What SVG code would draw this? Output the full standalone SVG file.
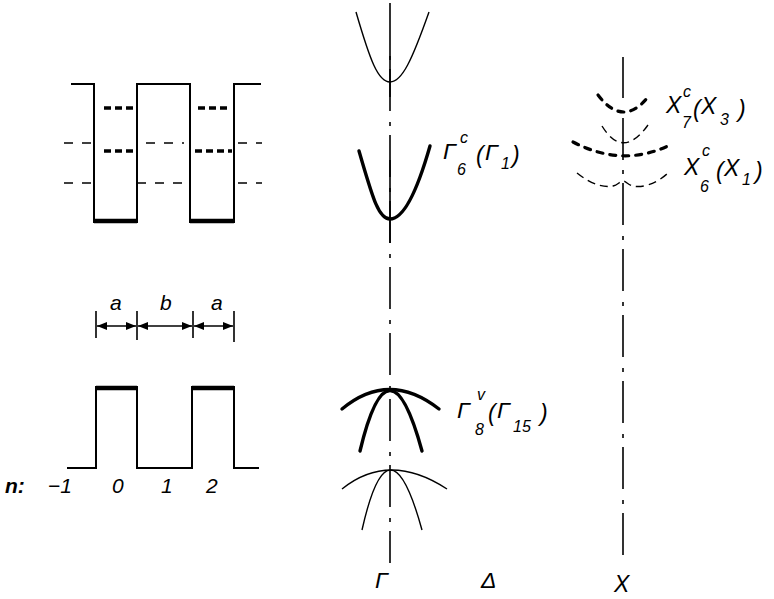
<svg xmlns="http://www.w3.org/2000/svg" width="774" height="599" viewBox="0 0 774 599">
<style>
.w{fill:none;stroke:#000;stroke-width:2;stroke-linejoin:miter;stroke-linecap:square}
.thk{fill:none;stroke:#000;stroke-width:4.5}
.hd{fill:none;stroke:#000;stroke-width:3.4;stroke-dasharray:7 4}
.td{fill:none;stroke:#000;stroke-width:1.6;stroke-dasharray:9 9}
.ax{fill:none;stroke:#000;stroke-width:1.6;stroke-dasharray:42 11 4 9}
.sol{fill:none;stroke:#000;stroke-width:1.6}
.thin{fill:none;stroke:#000;stroke-width:1.4}
.heavy{fill:none;stroke:#000;stroke-width:3.4;stroke-linecap:round}
.xd{fill:none;stroke:#000;stroke-width:3.2;stroke-dasharray:6 7;stroke-linecap:round}
.xt{fill:none;stroke:#000;stroke-width:1.4;stroke-dasharray:8 5}
.dim{fill:none;stroke:#000;stroke-width:1.6}
text{font-family:"Liberation Sans","DejaVu Sans",sans-serif;font-style:italic;fill:#000}
.L{font-size:21px}
.M{font-size:23px}
.s{font-size:16px}
</style>
<defs>
<marker id="ah" viewBox="0 0 10 8" refX="10" refY="4" markerWidth="10" markerHeight="8" markerUnits="userSpaceOnUse" orient="auto-start-reverse">
<path d="M0,0 L10,4 L0,8 Z" fill="#000"/>
</marker>
</defs>

<g id="well-potential">
<path class="w" d="M72,84 H94 V222 M137,222 V84 H190 V222 M234,222 V84 H260"/>
<path class="thk" d="M94,221 H137 M190,221 H234"/>
<path class="hd" d="M104,108 H133 M198,108 H231"/>
<path class="hd" d="M104,151 H134 M195,151 H232"/>
<path class="td" d="M64,143 H94 M146,143 H184 M238,143 H262"/>
<path class="td" d="M64,183 H94 M137,183 H190 M238,183 H262"/>
</g>

<g id="dimensions">
<path class="dim" d="M96,311 V338 M137,311 V340 M193,311 V338 M234,311 V342"/>
<path class="dim" d="M97,326 H136" marker-start="url(#ah)" marker-end="url(#ah)"/>
<path class="dim" d="M138,326 H192" marker-start="url(#ah)" marker-end="url(#ah)"/>
<path class="dim" d="M194,326 H233" marker-start="url(#ah)" marker-end="url(#ah)"/>
<text class="L" x="110" y="310">a</text>
<text class="L" x="160" y="310">b</text>
<text class="L" x="211" y="310">a</text>
</g>

<g id="barrier-profile">
<path class="w" d="M68,468 H96 V387 M137,387 V468 H192 V387 M234,387 V468 H258"/>
<path class="thk" d="M96,388 H137 M192,388 H234"/>
<text class="L" x="5" y="493" font-weight="bold">n:</text>
<text class="L" x="48" y="493">−1</text>
<text class="L" x="112" y="493">0</text>
<text class="L" x="161" y="493">1</text>
<text class="L" x="206" y="493">2</text>
</g>

<g id="connectors">
<line class="ax" x1="390" y1="3" x2="390" y2="563"/>
<line class="sol" x1="390" y1="45" x2="390" y2="97"/>
<line class="sol" x1="390" y1="160" x2="390" y2="243"/>
<line class="ax" x1="623" y1="183" x2="623" y2="558"/>
<line class="sol" x1="623" y1="57" x2="623" y2="98"/>
<line class="sol" x1="623" y1="118" x2="623" y2="160"/>
<line class="sol" x1="623" y1="170" x2="623" y2="174"/>
</g>

<g id="gamma-upper-band">
<path class="thin" d="M356,12 C370,60 378,82 390,82 C402,82 412,60 429,12"/>
</g>

<g id="gamma6c">
<path class="heavy" d="M359,151 C372,195 378,219 390,219 C403,219 416,195 430,146"/>
<text class="M" x="443" y="159">Γ</text>
<text class="s" x="460" y="143">c</text>
<text class="s" x="457" y="175">6</text>
<text class="M" x="476" y="163">(</text>
<text class="M" x="485" y="160">Γ</text>
<text class="s" x="501" y="169">1</text>
<text class="M" x="512" y="163">)</text>
</g>

<g id="gamma8v">
<path class="heavy" d="M342,409 Q389,370 439,409"/>
<path class="heavy" d="M360,451 Q389,330 422,451"/>
<text class="M" x="457" y="418">Γ</text>
<text class="s" x="477" y="400">v</text>
<text class="s" x="475" y="435">8</text>
<text class="M" x="488" y="421">(</text>
<text class="M" x="497" y="418">Γ</text>
<text class="s" x="513" y="432">15</text>
<text class="M" x="540" y="421">)</text>
</g>

<g id="gamma-lower-band">
<path class="thin" d="M342,489 Q389,451 447,489"/>
<path class="thin" d="M362,530 Q389,410 422,530"/>
</g>

<g id="x7c">
<path class="xd" d="M598,95 Q623,128 648,97"/>
<path class="xt" d="M602,126 Q623,160 648,125"/>
<text class="M" x="666" y="113">X</text>
<text class="s" x="683" y="97">c</text>
<text class="s" x="682" y="128">7</text>
<text class="M" x="693" y="117">(</text>
<text class="M" x="701" y="114">X</text>
<text class="s" x="720" y="125">3</text>
<text class="M" x="738" y="117">)</text>
</g>

<g id="x6c">
<path class="xd" d="M573,142 Q623,168 670,145"/>
<path class="xt" d="M577,173 C592,185 605,188 613,186 C618,185 620,181 623,181 C626,181 628,185 633,186 C641,188 655,185 668,173"/>
<text class="M" x="684" y="175">X</text>
<text class="s" x="702" y="156">c</text>
<text class="s" x="700" y="192">6</text>
<text class="M" x="716" y="179">(</text>
<text class="M" x="724" y="176">X</text>
<text class="s" x="742" y="185">1</text>
<text class="M" x="755" y="179">)</text>
</g>

<g id="axis-labels">
<text class="M" x="375" y="588">Γ</text>
<text class="M" x="481" y="588">Δ</text>
<text class="M" x="614" y="592">X</text>
</g>
</svg>
